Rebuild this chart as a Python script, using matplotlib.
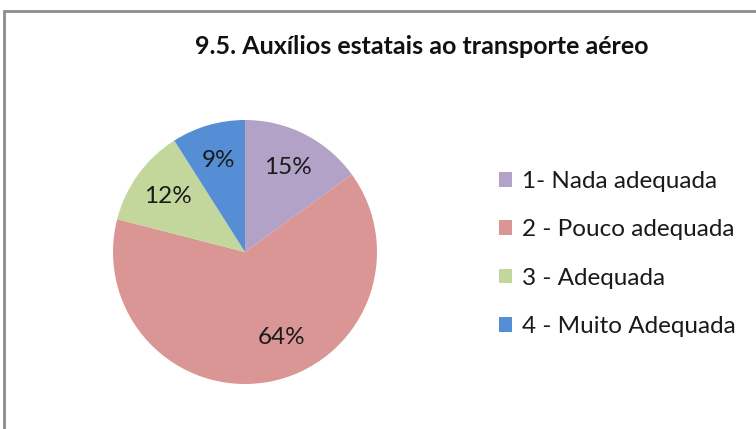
import matplotlib
matplotlib.use("Agg")
import matplotlib.pyplot as plt
from matplotlib.patches import Rectangle
import numpy as np

# dados
title = "9.5. Auxílios estatais ao transporte aéreo"
labels = ["1- Nada adequada", "2 - Pouco adequada", "3 - Adequada", "4 - Muito Adequada"]
values = [15, 64, 12, 9]
colors = ["#B3A2C7", "#D99694", "#C3D69B", "#558ED5"]

plt.rcParams["font.family"] = ["Lato", "DejaVu Sans"]
W, H = 756, 429
fig = plt.figure(figsize=(W / 100, H / 100), dpi=100)
fig.patch.set_facecolor("white")

# moldura do gráfico (cortada à direita e em baixo)
fig.add_artist(Rectangle((4 / W, -0.1), 1.2, (H - 11) / H + 0.1, transform=fig.transFigure,
                         facecolor="none", edgecolor="#8C8C8C", linewidth=2.0))

cx, cy, r = 245, 252, 132
ax = fig.add_axes([(cx - r) / W, (H - cy - r) / H, 2 * r / W, 2 * r / H])
wedges, texts, autotexts = ax.pie(values, colors=colors, startangle=90, counterclock=False,
                                  radius=1.0, autopct="%1.0f%%", pctdistance=0.72,
                                  wedgeprops=dict(linewidth=0),
                                  textprops=dict(fontsize=17.5, color="#1a1a1a"))
ax.set_xlim(-1, 1); ax.set_ylim(-1, 1)
ax.set_aspect("equal"); ax.axis("off")

# o Excel desloca o rótulo da fatia grande
a = np.deg2rad(-67)
autotexts[1].set_position((0.70 * np.cos(a), 0.70 * np.sin(a)))

fig.text(422 / W, 1 - 46 / H, title, ha="center", va="center",
         fontsize=18, fontweight="bold", color="#111111")

handles = [Rectangle((0, 0), 1, 1, facecolor=c, edgecolor="none") for c in colors]
leg = fig.legend(handles, labels, loc="center left", bbox_to_anchor=(477 / W, 1 - 254 / H),
                 frameon=False, fontsize=17.5, handlelength=0.56, handleheight=0.56,
                 handletextpad=0.4, labelspacing=1.12, labelcolor="#1a1a1a")

plt.savefig("out.png", dpi=100, facecolor="white")
